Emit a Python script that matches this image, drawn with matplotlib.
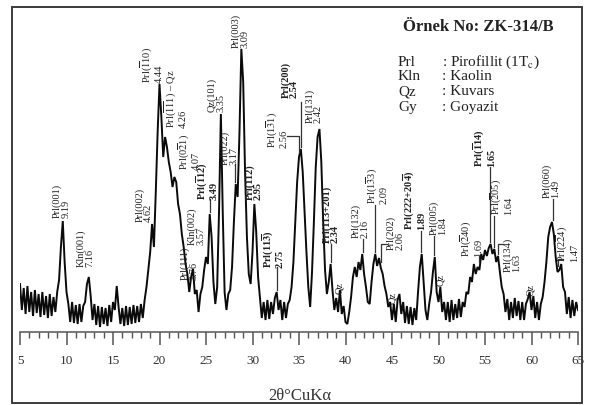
import numpy as np
import matplotlib
matplotlib.use("Agg")
import matplotlib.pyplot as plt
from matplotlib.patches import Rectangle
from matplotlib.ticker import MultipleLocator

plt.rcParams['font.family'] = 'Liberation Serif'
plt.rcParams['mathtext.fontset'] = 'stix'

# XRD pattern, 2-theta from 5 to 65 deg in 0.2 deg steps
two_theta = np.round(np.arange(5.0, 65.01, 0.2), 1)
intensity = [
    48, 22, 44, 18, 46, 20, 40, 16, 42, 19,
    38, 15, 40, 17, 36, 14, 38, 16, 35, 20,
    40, 52, 85, 111, 70, 40, 28, 10, 30, 9,
    27, 8, 28, 10, 26, 30, 48, 55, 36, 12,
    28, 7, 26, 5, 25, 8, 24, 6, 27, 10,
    30, 22, 46, 25, 8, 24, 6, 26, 7, 25,
    8, 27, 9, 26, 10, 28, 14, 32, 45, 62,
    80, 108, 85, 140, 200, 248, 215, 175, 195, 185,
    170, 160, 145, 155, 150, 128, 118, 98, 85, 68,
    58, 40, 55, 63, 38, 42, 20, 38, 45, 62,
    75, 68, 118, 95, 50, 28, 45, 120, 218, 120,
    40, 22, 38, 42, 65, 110, 148, 135, 200, 283,
    250, 160, 95, 58, 48, 80, 128, 100, 55, 35,
    14, 30, 12, 32, 13, 30, 18, 34, 40, 22,
    32, 12, 30, 14, 28, 32, 45, 70, 110, 150,
    175, 183, 160, 120, 80, 45, 25, 60, 110, 165,
    195, 203, 170, 110, 62, 38, 50, 68, 42, 22,
    34, 20, 42, 18, 26, 10, 8, 20, 35, 55,
    65, 55, 70, 62, 78, 58, 45, 30, 28, 50,
    68, 78, 66, 74, 64, 58, 46, 38, 25, 30,
    12, 28, 10, 32, 38, 18, 30, 9, 26, 8,
    25, 7, 24, 12, 40, 65, 78, 50, 22, 12,
    28, 40, 60, 75, 40, 30, 45, 20, 30, 12,
    30, 10, 32, 12, 28, 14, 33, 15, 30, 25,
    40, 38, 55, 50, 68, 58, 65, 62, 78, 72,
    82, 76, 84, 88, 78, 83, 70, 76, 60, 45,
    38, 20, 33, 12, 30, 14, 34, 16, 31, 12,
    30, 12, 28, 33, 40, 22, 36, 14, 30, 12,
    28, 35, 50, 70, 95, 105, 110, 98, 75, 60,
    62, 68, 45, 40, 18, 35, 14, 32, 16, 30,
    22,
]

ob = r"$\overline{%s}$"
obb = r"$\overline{\mathbf{%s}}$"

# peak labels: text, bold
peak_texts = [
    ("Prl(001)\n9.19", False),
    ("Kln(001)\n7.16", False),
    ("Prl(002)\n4.62", False),
    ("Prl(" + ob % "1" + "10)\n4.44", False),
    ("Prl(" + ob % "11" + "1) – Qz\n4.26", False),
    ("Prl(0" + ob % "2" + "1)\n4.07", False),
    ("Prl(111)\n3.76", False),
    ("Kln(002)\n3.57", False),
    ("Prl(" + obb % "1" + "12)\n3.49", True),
    ("Qz(101)\n3.35", False),
    ("Prl(022)\n3.17", False),
    ("Prl(003)\n3.09", False),
    ("Prl(112)\n2.95", True),
    ("Prl(11" + obb % "3" + ")\n2.75", True),
    ("Prl(1" + ob % "3" + "1)\n2.56", False),
    ("Prl(200)\n2.54", True),
    ("Prl(131)\n2.42", False),
    ("Prl(113+201)\n2.34", True),
    ("Prl(132)\n2.16", False),
    ("Prl(1" + ob % "3" + "3)\n2.09", False),
    ("Prl(202)\n2.06", False),
    ("Prl(222+20" + obb % "4" + ")\n1.89", True),
    ("Prl(005)\n1.84", False),
    ("Prl(" + ob % "2" + "40)\n1.69", False),
    ("Prl(" + obb % "1" + "14)\n1.65", True),
    ("Prl(" + ob % "2" + "05)\n1.64", False),
    ("Prl(134)\n1.63", False),
    ("Prl(060)\n1.49", False),
    ("Prl(2" + ob % "2" + "4)\n1.47", False),
]
# label anchor (x centre, bottom of text)
peak_pos = [
    (9.41, 115), (11.99, 66), (18.33, 111), (19.09, 250), (21.67, 205),
    (23.17, 163), (23.17, 53), (23.92, 88), (25.11, 133), (26.08, 221),
    (27.47, 168), (28.66, 285), (30.16, 133), (32.2, 65), (32.6, 185),
    (34.03, 235), (36.6, 210), (38.44, 90), (41.56, 95), (43.39, 129),
    (45.32, 83), (47.37, 103), (49.95, 98), (53.5, 76), (54.9, 166),
    (56.72, 118), (57.9, 61), (62.1, 135), (63.82, 71),
]
qz_pos = [(39.41, 45), (45.1, 35), (50.27, 53), (59.95, 43)]

leaders = [
    [(25.4, 120), (25.4, 133)],
    [(28.12, 150), (28.12, 168)],
    [(32.63, 42), (32.63, 65)],
    [(33.71, 196), (35.0, 196), (35.0, 180)],
    [(35.2, 185), (35.2, 230)],
    [(38.44, 70), (38.44, 88)],
    [(41.88, 80), (41.88, 93)],
    [(43.17, 80), (43.17, 127)],
    [(43.82, 70), (43.82, 88), (44.46, 88)],
    [(48.15, 80), (48.15, 101)],
    [(49.5, 77), (49.5, 96)],
    [(54.35, 70), (54.35, 76)],
    [(55.55, 90), (55.55, 165)],
    [(55.97, 85), (55.97, 116)],
    [(56.4, 78), (56.4, 88), (56.94, 88)],
    [(62.3, 112), (62.3, 133)],
    [(62.85, 66), (62.85, 73), (63.39, 73)],
]

legend_abbr = ["Prl", "Kln", "Qz", "Gy"]
legend_name = ["Pirofillit (1T$_\\mathrm{c}$)", "Kaolin", "Kuvars", "Goyazit"]

W, H = 589, 406
fig = plt.figure(figsize=(W / 100, H / 100), dpi=100)

# outer frame
fig.add_artist(Rectangle((12 / W, 2 / H), 570 / W, 396 / H, transform=fig.transFigure,
                         fill=False, lw=1.4, ec="#3c3c3c"))

ax = fig.add_axes([20 / W, 73 / H, 558 / W, 325 / H])
ax.plot(two_theta, intensity, color="#0a0a0a", lw=1.4, solid_joinstyle="miter")
ax.set_xlim(5, 65)
ax.set_ylim(0, 325)
for s in ["top", "left", "right"]:
    ax.spines[s].set_visible(False)
ax.spines["bottom"].set_color("#555555")
ax.spines["bottom"].set_linewidth(1.1)
ax.set_yticks([])
ax.xaxis.set_major_locator(MultipleLocator(5))
ax.xaxis.set_minor_locator(MultipleLocator(1))
ax.tick_params(axis="x", which="major", direction="out", length=9.5, width=1.1,
               color="#555555", labelsize=9.5, pad=6, labelcolor="#333333")
ax.tick_params(axis="x", which="minor", direction="out", length=4.5, width=1.0,
               color="#555555")
ax.patch.set_alpha(0)

for (txt, bold), (x, y) in zip(peak_texts, peak_pos):
    ax.text(x, y, txt, rotation=90, ha="center", va="bottom", multialignment="left",
            fontsize=7.5, linespacing=0.95, color="#222222",
            fontweight="bold" if bold else "normal")
for x, y in qz_pos:
    ax.text(x, y, "Qz", rotation=90, ha="center", va="center", fontsize=7.5,
            color="#222222")
for pts in leaders:
    xs, ys = zip(*pts)
    ax.plot(xs, ys, color="#333333", lw=0.9)

fig.text(300 / W, 1 - 396 / H, "2θ°CuKα", ha="center", va="center", fontsize=12,
         color="#333333")

fig.text(478 / W, 1 - 27 / H, "Örnek No: ZK-314/B", ha="center", va="center",
         fontsize=12, fontweight="bold", color="#222222")
for i, (a, n) in enumerate(zip(legend_abbr, legend_name)):
    yy = 1 - (62 + 15 * i) / H
    fig.text(398 / W, yy, a, ha="left", va="center", fontsize=11, color="#222222")
    fig.text(442 / W, yy, ": " + n, ha="left", va="center", fontsize=11,
             color="#222222")

fig.savefig("out.png", dpi=100)
